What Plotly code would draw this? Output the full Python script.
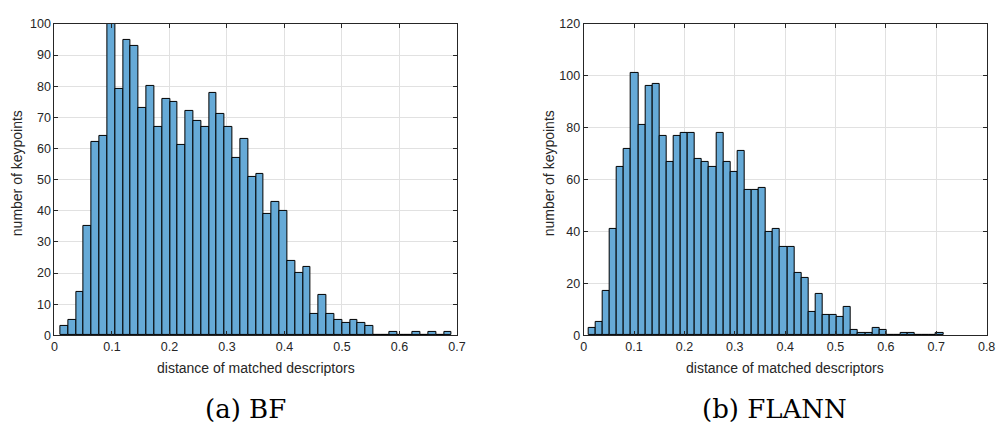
import plotly.graph_objects as go

# ---------------- data ----------------
bf_counts = [3, 5, 14, 35, 62, 64, 100, 79, 95, 93,
             73, 80, 67, 76, 75, 61, 72, 69, 67, 78,
             71, 67, 57, 63, 51, 52, 39, 43, 40, 24,
             20, 22, 7, 13, 7, 5, 4, 5, 4, 3,
             0, 0, 1, 0, 0, 1, 0, 1, 0, 1]
bf_bin_start = 0.0103
bf_bin_width = 0.01361

flann_counts = [3, 5, 17, 41, 65, 72, 101, 81, 96, 97,
                77, 67, 77, 78, 78, 68, 67, 65, 78, 67,
                63, 71, 56, 56, 57, 40, 41, 34, 34, 24,
                22, 9, 16, 8, 8, 7, 11, 2, 1, 1,
                3, 2, 0, 0, 1, 1, 0, 0, 0, 1]
flann_bin_start = 0.0098
flann_bin_width = 0.01408

bf_xticks = [0, 0.1, 0.2, 0.3, 0.4, 0.5, 0.6, 0.7]
bf_xticklabels = ["0", "0.1", "0.2", "0.3", "0.4", "0.5", "0.6", "0.7"]
bf_yticks = [0, 10, 20, 30, 40, 50, 60, 70, 80, 90, 100]

flann_xticks = [0, 0.1, 0.2, 0.3, 0.4, 0.5, 0.6, 0.7, 0.8]
flann_xticklabels = ["0", "0.1", "0.2", "0.3", "0.4", "0.5", "0.6", "0.7", "0.8"]
flann_yticks = [0, 20, 40, 60, 80, 100, 120]

x_title = "distance of matched descriptors"
y_title = "number of keypoints"
captions = ["(a) BF", "(b) FLANN"]

# ---------------- figure ----------------
W, H = 1005, 428
bar_color = "rgb(102,170,215)"
axis_color = "rgb(38,38,38)"
grid_color = "rgb(225,225,225)"


def centers(start, width, n):
    return [start + width * (i + 0.5) for i in range(n)]


fig = go.Figure()
fig.add_trace(go.Bar(
    x=centers(bf_bin_start, bf_bin_width, len(bf_counts)), y=bf_counts,
    width=[bf_bin_width] * len(bf_counts),
    marker=dict(color=bar_color, line=dict(color="black", width=1)),
    xaxis="x", yaxis="y", showlegend=False, hoverinfo="x+y"))
fig.add_trace(go.Bar(
    x=centers(flann_bin_start, flann_bin_width, len(flann_counts)), y=flann_counts,
    width=[flann_bin_width] * len(flann_counts),
    marker=dict(color=bar_color, line=dict(color="black", width=1)),
    xaxis="x2", yaxis="y2", showlegend=False, hoverinfo="x+y"))

y_dom = [1 - 339.5 / H, 1 - 17.5 / H]
left_dom = [52 / W, 459.5 / W]
right_dom = [587.7 / W, 995.5 / W]

common = dict(showline=True, linecolor=axis_color, linewidth=1, mirror="allticks",
              ticks="inside", ticklen=4, tickcolor=axis_color, tickwidth=1,
              showgrid=True, gridcolor=grid_color, gridwidth=1, zeroline=False,
              tickfont=dict(family="Liberation Sans", size=12.5, color=axis_color))

fig.update_layout(
    width=W, height=H, margin=dict(l=0, r=0, t=0, b=0),
    paper_bgcolor="white", plot_bgcolor="white", bargap=0,
    xaxis=dict(domain=left_dom, range=[0, 0.7], tickvals=bf_xticks, ticktext=bf_xticklabels,
               anchor="y", **common),
    yaxis=dict(domain=y_dom, range=[0, 100], tickvals=bf_yticks, anchor="x", **common),
    xaxis2=dict(domain=right_dom, range=[0, 0.8], tickvals=flann_xticks, ticktext=flann_xticklabels,
                anchor="y2", **common),
    yaxis2=dict(domain=y_dom, range=[0, 120], tickvals=flann_yticks, anchor="x2", **common),
)

lab_font = dict(family="Liberation Sans", size=14, color=axis_color)
ann = []
for cx, py in [((52 + 459.5) / 2, 15), ((587.7 + 995.5) / 2, 552.5)]:
    ann.append(dict(text=x_title, x=cx / W, y=1 - 372.7 / H, xref="paper", yref="paper",
                    showarrow=False, font=lab_font, xanchor="center", yanchor="middle"))
    ann.append(dict(text=y_title, x=py / W, y=1 - 172 / H, xref="paper", yref="paper",
                    showarrow=False, font=lab_font, textangle=-90,
                    xanchor="center", yanchor="middle"))
for cx, txt in zip([245.5, 781], captions):
    ann.append(dict(text=txt, x=cx / W, y=1 - 416 / H, xref="paper", yref="paper",
                    showarrow=False, xanchor="center", yanchor="middle",
                    font=dict(family="DejaVu Serif", size=26, color="black")))
fig.update_layout(annotations=ann)

fig.write_html("out.html")
